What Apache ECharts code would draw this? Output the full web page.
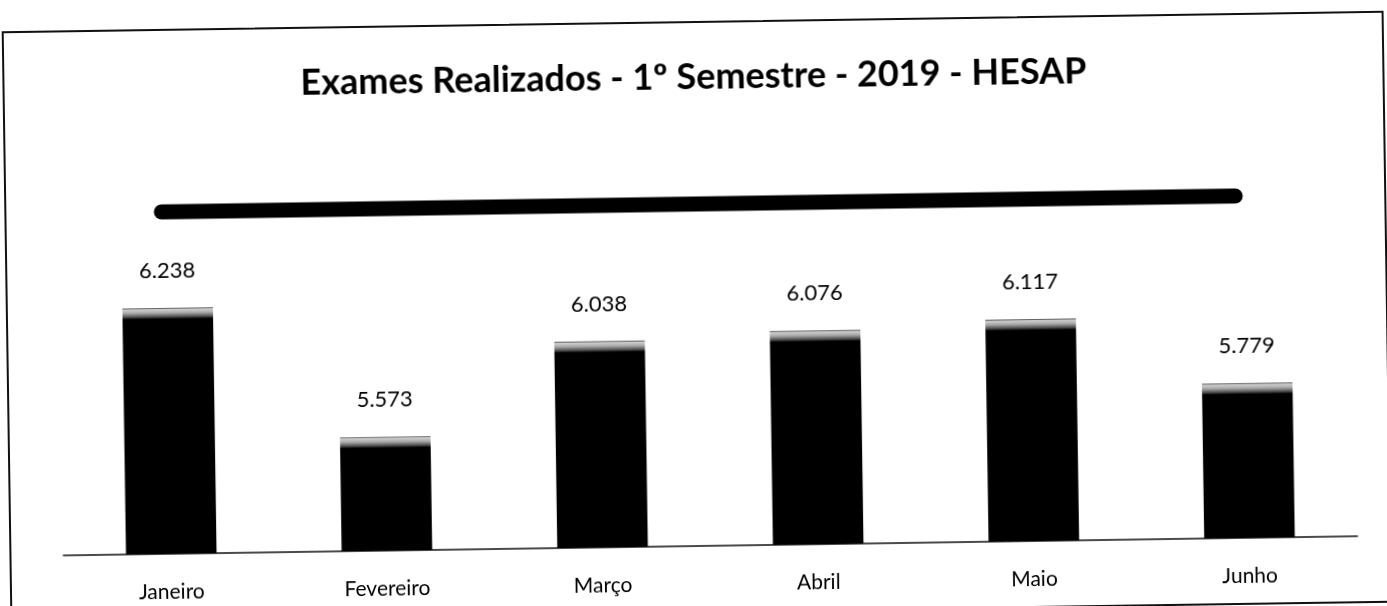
<!DOCTYPE html>
<html>
<head>
<meta charset="utf-8">
<title>Exames Realizados - 1º Semestre - 2019 - HESAP</title>
<script src="https://cdn.jsdelivr.net/npm/echarts@6/dist/echarts.min.js"></script>
<style>
  html, body { margin: 0; padding: 0; background: #fff; overflow: hidden; }
  #frame {
    position: absolute; left: 6px; top: 21px;
    width: 1382px; height: 592px;
    border: 2px solid #111; box-sizing: border-box;
    transform: rotate(-0.85deg);
  }
  #chart { width: 1378px; height: 588px; }
</style>
</head>
<body>
<div id="frame"><div id="chart"></div></div>
<script>
// dados
const meses = ['Janeiro', 'Fevereiro', 'Março', 'Abril', 'Maio', 'Junho'];
const exames = [6238, 5573, 6038, 6076, 6117, 5779];
const yMin = 5000;
const yMax = 6500;

const chartEl = document.getElementById('chart');
const myChart = echarts.init(chartEl);

const grid = { left: 52, right: 32, top: 225, bottom: 65 };
const fonte = 'Lato, "Open Sans", sans-serif';

// formato pt-BR: 6.238
function fmt(v) {
  return String(v).replace(/\B(?=(\d{3})+(?!\d))/g, '.');
}

// barra preta com o chanfro cinza no topo
const pxPorUnidade = (myChart.getHeight() - grid.top - grid.bottom) / (yMax - yMin);
function barItem(v) {
  const h = (v - yMin) * pxPorUnidade;
  const f = px => Math.min(px / h, 1);
  return {
    value: v,
    itemStyle: {
      color: new echarts.graphic.LinearGradient(0, 0, 0, 1, [
        { offset: 0, color: '#3a3a3a' },
        { offset: f(1.5), color: '#cfcfcf' },
        { offset: f(5), color: '#a8a8a8' },
        { offset: f(9), color: '#4a4a4a' },
        { offset: f(11), color: '#000' },
        { offset: 1, color: '#000' }
      ])
    }
  };
}

const option = {
  animation: false,
  title: {
    text: 'Exames Realizados - 1º Semestre - 2019 - HESAP',
    left: 'center',
    top: 31,
    textStyle: { fontFamily: fonte, fontWeight: 'bold', fontSize: 36, color: '#000' }
  },
  grid: grid,
  xAxis: {
    type: 'category',
    data: meses,
    axisTick: { show: false },
    axisLine: { lineStyle: { color: '#111', width: 1.5 } },
    axisLabel: { color: '#000', fontFamily: fonte, fontSize: 21, margin: 28 }
  },
  yAxis: {
    type: 'value',
    min: yMin,
    max: yMax,
    show: false,
    splitLine: { show: false }
  },
  series: [{
    type: 'bar',
    barWidth: '42%',
    data: exames.map(barItem),
    label: {
      show: true,
      position: 'top',
      distance: 26,
      color: '#000',
      fontFamily: fonte,
      fontSize: 22,
      formatter: p => fmt(p.value)
    }
  }],
  graphic: [{
    type: 'line',
    shape: { x1: 155, y1: 181, x2: 1229, y2: 181 },
    style: { stroke: '#000', lineWidth: 15, lineCap: 'round' }
  }]
};

myChart.setOption(option);
</script>
</body>
</html>
